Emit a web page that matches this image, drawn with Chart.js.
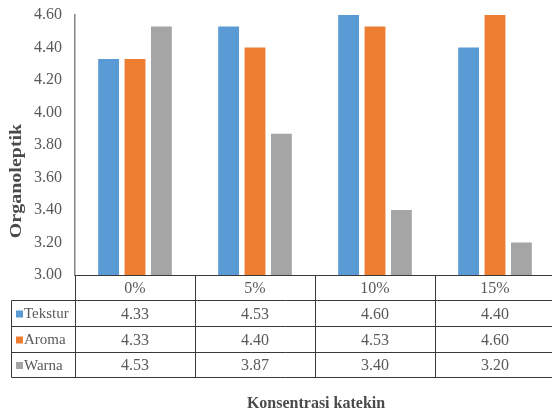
<!DOCTYPE html>
<html>
<head>
<meta charset="utf-8">
<script src="https://cdn.jsdelivr.net/npm/chart.js@4.4.0/dist/chart.umd.min.js"></script>
<style>
  html, body { margin: 0; padding: 0; background: #fff; overflow: hidden; }
  #wrap { width: 560px; height: 414px; }
</style>
</head>
<body>
<div id="wrap"><canvas id="c" width="560" height="414"></canvas></div>
<script>
// Catechin concentration levels and organoleptic scores
const categories = ['0%', '5%', '10%', '15%'];
const tekstur = [4.33, 4.53, 4.60, 4.40];
const aroma = [4.33, 4.40, 4.53, 4.60];
const warna = [4.53, 3.87, 3.40, 3.20];
const seriesNames = ['Tekstur', 'Aroma', 'Warna'];
const yTicks = [3.0, 3.2, 3.4, 3.6, 3.8, 4.0, 4.2, 4.4, 4.6];

const colors = ['#5B9BD5', '#ED7D31', '#A5A5A5'];
const textGray = '#595959';
const serif = '"Liberation Serif", "Times New Roman", serif';

// Data table drawn under the x axis, one column per category
const dataTable = {
  id: 'dataTable',
  afterDraw(chart) {
    const ctx = chart.ctx;
    const x = chart.scales.x;
    const area = chart.chartArea;
    const n = categories.length;
    const colW = (area.right - area.left) / n;
    const rows = [area.bottom, 300.5, 326.5, 352.5, 377.5];
    const tableLeft = 11.5;
    const series = [tekstur, aroma, warna];

    ctx.save();
    ctx.strokeStyle = '#3a3a3a';
    ctx.lineWidth = 1;
    ctx.beginPath();
    // horizontal rules of the value rows
    for (let r = 1; r < rows.length; r++) {
      ctx.moveTo(tableLeft, rows[r]);
      ctx.lineTo(chart.width, rows[r]);
    }
    // left border of the series name column
    ctx.moveTo(tableLeft, rows[1]);
    ctx.lineTo(tableLeft, rows[4]);
    // column separators
    for (let i = 0; i <= n; i++) {
      const xx = Math.round(area.left + i * colW) + 0.5;
      ctx.moveTo(xx, rows[0]);
      ctx.lineTo(xx, rows[4]);
    }
    ctx.stroke();

    ctx.fillStyle = textGray;
    ctx.textAlign = 'center';
    ctx.textBaseline = 'middle';
    ctx.font = '16px ' + serif;
    categories.forEach((c, i) => {
      const cx = x.getPixelForValue(i);
      ctx.fillText(c, cx, (rows[0] + rows[1]) / 2 + 1);
      series.forEach((s, k) => {
        ctx.fillText(s[i].toFixed(2), cx, (rows[k + 1] + rows[k + 2]) / 2 + 1);
      });
    });

    // series keys
    ctx.textAlign = 'left';
    ctx.font = '15px ' + serif;
    seriesNames.forEach((name, k) => {
      const cy = (rows[k + 1] + rows[k + 2]) / 2;
      ctx.fillStyle = colors[k];
      ctx.fillRect(16, cy - 3, 7, 7);
      ctx.fillStyle = textGray;
      ctx.fillText(name, 24, cy + 1);
    });

    // axis titles
    ctx.font = 'bold 16px ' + serif;
    ctx.fillStyle = '#4a4a4a';
    ctx.textAlign = 'center';
    ctx.fillText('Konsentrasi katekin', 316, 404);
    ctx.translate(17, 181);
    ctx.rotate(-Math.PI / 2);
    ctx.scale(1.25, 1);
    ctx.fillText('Organoleptik', 0, 0);
    ctx.restore();
  }
};

new Chart(document.getElementById('c'), {
  type: 'bar',
  data: {
    labels: categories,
    datasets: [
      { label: seriesNames[0], data: tekstur, backgroundColor: colors[0] },
      { label: seriesNames[1], data: aroma, backgroundColor: colors[1] },
      { label: seriesNames[2], data: warna, backgroundColor: colors[2] }
    ]
  },
  options: {
    responsive: false,
    animation: false,
    events: [],
    layout: { padding: { top: 15, right: 5, bottom: 139, left: 0 } },
    datasets: { bar: { categoryPercentage: 0.66, barPercentage: 0.79 } },
    plugins: { legend: { display: false }, tooltip: { enabled: false } },
    scales: {
      x: {
        grid: { display: false },
        border: { color: '#3a3a3a', width: 1 },
        ticks: { display: false },
        afterFit(s) { s.height = 0; s.paddingLeft = 0; s.paddingRight = 0; }
      },
      y: {
        min: 3.0,
        max: 4.6,
        afterBuildTicks(s) { s.ticks = yTicks.map(v => ({ value: v })); },
        grid: { display: false, drawTicks: false },
        border: { color: '#868686', width: 1.5 },
        ticks: {
          padding: 13,
          color: textGray,
          font: { family: serif, size: 16 },
          callback: v => Number(v).toFixed(2)
        },
        afterFit(s) { s.width = 75; s.paddingTop = 0; s.paddingBottom = 0; }
      }
    }
  },
  plugins: [dataTable]
});
</script>
</body>
</html>
